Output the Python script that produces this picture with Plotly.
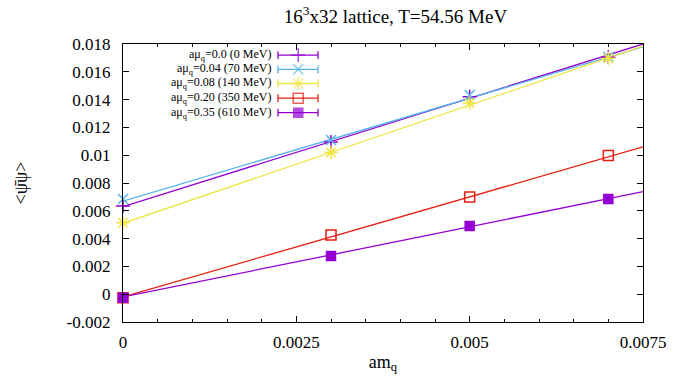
import plotly.graph_objects as go

# ---- data ----
am_q = [0.0, 0.003, 0.005, 0.007]
series_names = ["aμ<sub>q</sub>=0.0 (0 MeV)", "aμ<sub>q</sub>=0.04 (70 MeV)",
                "aμ<sub>q</sub>=0.08 (140 MeV)", "aμ<sub>q</sub>=0.20 (350 MeV)",
                "aμ<sub>q</sub>=0.35 (610 MeV)"]
pbp_00 = [0.00635, 0.01095, 0.01420, 0.01705]
pbp_04 = [0.00685, 0.01110, 0.01433, 0.01706]
pbp_08 = [0.00514, 0.01020, 0.01375, 0.01698]
pbp_20 = [-0.00025, 0.00426, 0.00699, 0.00998]
pbp_35 = [-0.00025, 0.00275, 0.00490, 0.00685]
fit_intercept = [0.0063, 0.0067, 0.0051, -0.0002, -0.0002]
fit_slope = [1.56, 1.48, 1.70, 1.44, 1.01]
fit_x = [0.0, 0.0075]

x_ticks = [0, 0.0025, 0.005, 0.0075]
x_ticklabels = ["0", "0.0025", "0.005", "0.0075"]
y_ticks = [-0.002, 0, 0.002, 0.004, 0.006, 0.008, 0.01, 0.012, 0.014, 0.016, 0.018]
y_ticklabels = ["-0.002", "0", "0.002", "0.004", "0.006", "0.008", "0.01",
                "0.012", "0.014", "0.016", "0.018"]

# ---- styles ----
colors = ["#9400D3", "#56B4E9", "#F0E442", "#E51E10", "#9400D3"]
symbols = ["cross-thin-open", "x-thin-open", "asterisk-open", "square-open", "square"]
msizes = [10, 10, 11, 10, 9]
all_y = [pbp_00, pbp_04, pbp_08, pbp_20, pbp_35]
FONT = '"Liberation Serif", "Times New Roman", Times, serif'

fig = go.Figure()
for i, yv in enumerate(all_y):
    fy = [fit_intercept[i] + fit_slope[i] * xx for xx in fit_x]
    fig.add_trace(go.Scatter(x=fit_x, y=fy, mode="lines",
                             line=dict(color=colors[i], width=1.3),
                             showlegend=False, hoverinfo="skip", cliponaxis=True))
for i, yv in enumerate(all_y):
    fig.add_trace(go.Scatter(x=am_q, y=yv, mode="markers",
                             marker=dict(symbol=symbols[i], size=msizes[i], color=colors[i],
                                         line=dict(color=colors[i], width=1.5)),
                             showlegend=False, cliponaxis=False))

# ---- custom gnuplot-style key (text left of sample) ----
key_rows = [0.960, 0.909, 0.858, 0.805, 0.753]  # paper y of key rows
key_text_x = 0.288
key_l, key_r, key_m = 0.298, 0.375, 0.337
for i, ky in enumerate(key_rows):
    fig.add_annotation(x=key_text_x, y=ky, xref="paper", yref="paper",
                       text=series_names[i], showarrow=False, xanchor="right",
                       yanchor="middle", font=dict(family=FONT, size=12, color="black"))
    fig.add_shape(type="line", xref="paper", yref="paper", x0=key_l, x1=key_r, y0=ky, y1=ky,
                  line=dict(color=colors[i], width=1.3))
    for ex in (key_l, key_r):
        fig.add_shape(type="line", xref="paper", yref="paper", x0=ex, x1=ex,
                      y0=ky - 0.014, y1=ky + 0.014, line=dict(color=colors[i], width=1.3))
fig.add_trace(go.Scatter(x=[key_m] * 5, y=key_rows, xaxis="x2", yaxis="y2", mode="markers",
                         marker=dict(symbol=symbols, size=msizes, color=colors,
                                     line=dict(color=colors, width=1.5)),
                         showlegend=False, hoverinfo="skip", cliponaxis=False))

axis_common = dict(showline=True, linecolor="black", linewidth=1.3, mirror="ticks",
                   ticks="inside", tickcolor="black", ticklen=6, showgrid=False,
                   zeroline=False, automargin=False,
                   tickfont=dict(family=FONT, size=17, color="black"))
fig.update_layout(
    width=676, height=378,
    margin=dict(l=123, r=33, t=44, b=56, autoexpand=False),
    paper_bgcolor="white", plot_bgcolor="white",
    font=dict(family=FONT, color="black"),
    title=dict(text="16<sup>3</sup>x32 lattice, T=54.56 MeV", x=0.585, xanchor="center",
               y=0.958, yanchor="middle", automargin=False,
               font=dict(family=FONT, size=19, color="black")),
    xaxis=dict(range=[0, 0.0075], tickvals=x_ticks, ticktext=x_ticklabels,
               ticklabelstandoff=4,
               minor=dict(dtick=0.0005, ticks="inside", ticklen=3, tickcolor="black"),
               title=dict(text="am<sub>q</sub>", font=dict(family=FONT, size=18, color="black"),
                          standoff=4),
               **axis_common),
    yaxis=dict(range=[-0.002, 0.018], tickvals=y_ticks, ticktext=y_ticklabels,
               ticklabelstandoff=8,
               title=dict(text="<ψ̄ψ>", font=dict(family=FONT, size=18, color="black"),
                          standoff=34),
               **axis_common),
    xaxis2=dict(range=[0, 1], overlaying="x", visible=False),
    yaxis2=dict(range=[0, 1], overlaying="y", visible=False),
    showlegend=False,
)

fig.write_html("out.html")
